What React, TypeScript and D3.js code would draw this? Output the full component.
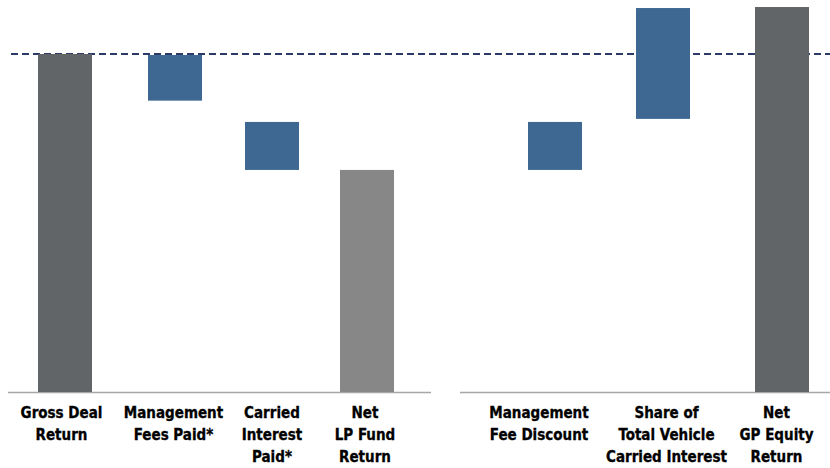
import React from "react";
import * as d3 from "d3";

const leftCategories = ["Gross Deal Return", "Management Fees Paid*", "Carried Interest Paid*", "Net LP Fund Return"];
const leftLabels = [["Gross Deal", "Return"], ["Management", "Fees Paid*"], ["Carried", "Interest", "Paid*"], ["Net", "LP Fund", "Return"]];
const leftLow = [0, 86.2, 65.7, 0];
const leftHigh = [100, 99.7, 79.9, 65.7];
const leftKind = ["total", "step", "step", "net"];

const rightCategories = ["Management Fee Discount", "Share of Total Vehicle Carried Interest", "Net GP Equity Return"];
const rightLabels = [["Management", "Fee Discount"], ["Share of", "Total Vehicle", "Carried Interest"], ["Net", "GP Equity", "Return"]];
const rightLow = [65.7, 80.8, 0];
const rightHigh = [79.9, 113.6, 113.9];
const rightKind = ["step", "step", "total"];

const referenceLevel = 100;

export default function App() {
  const W = 830, H = 468;
  const y = d3.scaleLinear().domain([0, 100]).range([392, 54]);
  const allCats = [...leftCategories, ...rightCategories];
  const barX = d3.scaleOrdinal<string, number>().domain(allCats).range([65, 175, 272, 367, 555, 663, 782]);
  const labelX = d3.scaleOrdinal<string, number>().domain(allCats).range([61.5, 173.5, 272, 365, 539, 666.5, 776.5]);
  const barW = 54;
  const colors: Record<string, string> = { total: "#626568", step: "#3e6892", net: "#878787" };

  const bars = [
    ...leftCategories.map((c, i) => ({ c, lo: leftLow[i], hi: leftHigh[i], k: leftKind[i], lab: leftLabels[i] })),
    ...rightCategories.map((c, i) => ({ c, lo: rightLow[i], hi: rightHigh[i], k: rightKind[i], lab: rightLabels[i] })),
  ];

  return (
    <svg width={W} height={H} style={{ position: "absolute", left: 0, top: 0, background: "#fff" }}>
      <line x1={8} x2={431} y1={y(0) + 0.5} y2={y(0) + 0.5} stroke="#a6a6a6" strokeWidth={1.5} />
      <line x1={460} x2={830} y1={y(0) + 0.5} y2={y(0) + 0.5} stroke="#a6a6a6" strokeWidth={1.5} />
      <line x1={11} x2={830} y1={y(referenceLevel)} y2={y(referenceLevel)} stroke="#2b3a67" strokeWidth={2} strokeDasharray="7 4" />
      {bars.map((b) => (
        <rect key={b.c} x={barX(b.c) - barW / 2} width={barW} y={y(b.hi)} height={y(b.lo) - y(b.hi)} fill={colors[b.k]} />
      ))}
      {bars.map((b) => (
        <text key={"t" + b.c} x={labelX(b.c)} textAnchor="middle" fontFamily="'DejaVu Sans Condensed', sans-serif" fontWeight="bold" fontSize={15} fill="#000" stroke="#000" strokeWidth={0.3}>
          {b.lab.map((l, j) => (
            <tspan key={j} x={labelX(b.c)} y={418 + j * 22}>{l}</tspan>
          ))}
        </text>
      ))}
    </svg>
  );
}
